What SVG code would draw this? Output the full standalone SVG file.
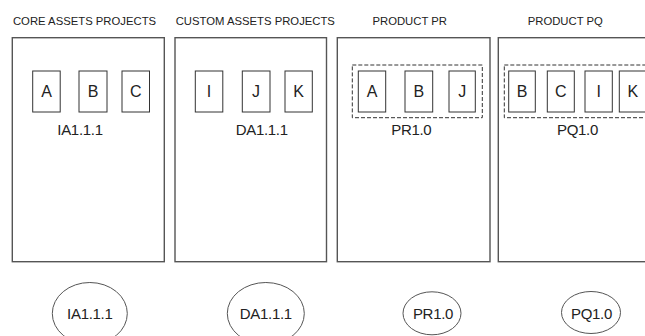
<svg xmlns="http://www.w3.org/2000/svg" width="645" height="336" viewBox="0 0 645 336">
  <style>
    text { font-family: "Liberation Sans", Arial, sans-serif; fill: #222; text-anchor: middle; }
    .hdr { font-size: 11.3px; }
    .item { font-size: 16px; }
    .ver { font-size: 15px; letter-spacing: -0.3px; }
    .panel { fill: #fff; stroke: #555; stroke-width: 1.4; }
    .part { fill: #fff; stroke: #333; stroke-width: 1; }
    .grp { fill: none; stroke: #333; stroke-width: 1; stroke-dasharray: 4 2; }
    .tag { fill: #fff; stroke: #555; stroke-width: 1; }
  </style>

  <rect width="645" height="336" fill="#fff"/>

  <!-- Core assets project -->
  <g id="core-assets">
    <text class="hdr" x="84.5" y="25">CORE ASSETS PROJECTS</text>
    <rect class="panel" x="12.3" y="37.7" width="152" height="224"/>
    <rect class="part" x="32.7" y="71" width="27.5" height="41"/>
    <text class="item" x="46.5" y="97">A</text>
    <rect class="part" x="79" y="71" width="28" height="41"/>
    <text class="item" x="93" y="97">B</text>
    <rect class="part" x="122" y="71" width="27.5" height="41"/>
    <text class="item" x="135.7" y="97">C</text>
    <text class="ver" x="80" y="135">IA1.1.1</text>
  </g>

  <!-- Custom assets project -->
  <g id="custom-assets">
    <text class="hdr" x="255.3" y="25">CUSTOM ASSETS PROJECTS</text>
    <rect class="panel" x="175" y="37.7" width="151.5" height="224"/>
    <rect class="part" x="195.3" y="71" width="27.5" height="41"/>
    <text class="item" x="209" y="97">I</text>
    <rect class="part" x="242.3" y="71" width="27.7" height="41"/>
    <text class="item" x="256" y="97">J</text>
    <rect class="part" x="285" y="71" width="27.3" height="41"/>
    <text class="item" x="298.7" y="97">K</text>
    <text class="ver" x="261.7" y="135">DA1.1.1</text>
  </g>

  <!-- Product PR -->
  <g id="product-pr">
    <text class="hdr" x="409.7" y="25">PRODUCT PR</text>
    <rect class="panel" x="337.3" y="37.7" width="152.7" height="224"/>
    <rect class="grp" x="352.3" y="65" width="130" height="52.7"/>
    <rect class="part" x="358.3" y="71" width="27.4" height="41"/>
    <text class="item" x="372" y="97">A</text>
    <rect class="part" x="405" y="71" width="27.7" height="41"/>
    <text class="item" x="418.8" y="97">B</text>
    <rect class="part" x="449" y="71" width="26.3" height="41"/>
    <text class="item" x="462.2" y="97">J</text>
    <text class="ver" x="411.3" y="135">PR1.0</text>
  </g>

  <!-- Product PQ -->
  <g id="product-pq">
    <text class="hdr" x="565.3" y="25">PRODUCT PQ</text>
    <rect class="panel" x="498.3" y="37.7" width="160" height="224"/>
    <rect class="grp" x="504.3" y="65" width="160" height="52.7"/>
    <rect class="part" x="508.7" y="71" width="26.6" height="41"/>
    <text class="item" x="522" y="97">B</text>
    <rect class="part" x="547.3" y="71" width="27" height="41"/>
    <text class="item" x="560.8" y="97">C</text>
    <rect class="part" x="585" y="71" width="27.3" height="41"/>
    <text class="item" x="598.7" y="97">I</text>
    <rect class="part" x="619.3" y="71" width="27" height="41"/>
    <text class="item" x="632.8" y="97">K</text>
    <text class="ver" x="577.5" y="135">PQ1.0</text>
  </g>

  <!-- Release tags -->
  <g id="tag-ia">
    <ellipse class="tag" cx="89.8" cy="313.5" rx="37.5" ry="31"/>
    <text class="ver" x="89.8" y="318.5">IA1.1.1</text>
  </g>
  <g id="tag-da">
    <ellipse class="tag" cx="265.8" cy="313.5" rx="38.5" ry="31"/>
    <text class="ver" x="265.8" y="318.5">DA1.1.1</text>
  </g>
  <g id="tag-pr">
    <ellipse class="tag" cx="432" cy="313.3" rx="29" ry="21.5"/>
    <text class="ver" x="433" y="318.5">PR1.0</text>
  </g>
  <g id="tag-pq">
    <ellipse class="tag" cx="591" cy="312.5" rx="29.5" ry="21"/>
    <text class="ver" x="591.5" y="318.5">PQ1.0</text>
  </g>
</svg>
